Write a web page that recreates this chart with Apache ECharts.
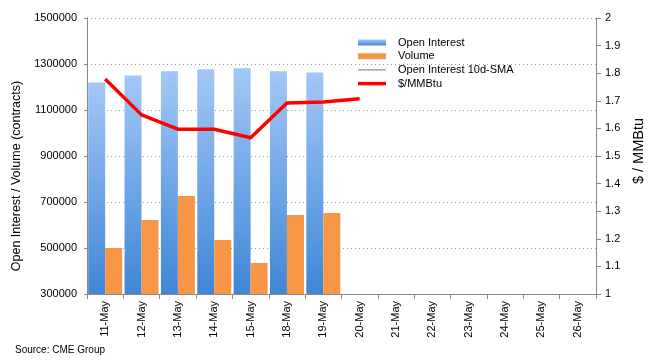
<!DOCTYPE html>
<html><head><meta charset="utf-8">
<script src="https://cdn.jsdelivr.net/npm/echarts@6/dist/echarts.min.js"></script>
<style>html,body{margin:0;padding:0;background:#fff}#c{width:655px;height:363px}</style>
</head><body><div id="c"></div>
<script>
var categories = ['11-May','12-May','13-May','14-May','15-May','18-May','19-May','20-May','21-May','22-May','23-May','24-May','25-May','26-May'];
var openInterest = [1220000,1250000,1268000,1277000,1282000,1268000,1263000,null,null,null,null,null,null,null];
var volume = [500000,622000,726000,535000,435000,643000,652000,null,null,null,null,null,null,null];
var oiSMA = [null,null,null,null,null,null,null,null,null,null,null,null,null,null];
var price = [1.779,1.649,1.597,1.597,1.566,1.692,1.696,1.707,null,null,null,null,null,null];
var leftTicks = {min:300000,max:1500000,interval:200000};
var rightTicks = {min:1,max:2,interval:0.1};

var chart = echarts.init(document.getElementById('c'), null, {renderer:'canvas'});
var font = 'Liberation Sans, Arial, sans-serif';
chart.setOption({
  animation:false,
  grid:{left:87,right:59,top:18,bottom:69,containLabel:false},
  legend:{
    orient:'vertical', left:353, top:32, itemWidth:28, itemHeight:6, itemGap:2.7,
    symbolKeepAspect:true,
    textStyle:{fontFamily:font,fontSize:11,color:'#000',padding:[0,0,0,7]},
    data:[
      {name:'Open Interest',icon:'rect'},
      {name:'Volume',icon:'rect'},
      {name:'Open Interest 10d-SMA',icon:'path://M0,0 H28 V1 H0 Z'},
      {name:'$/MMBtu',icon:'path://M0,0 H28 V3.5 H0 Z'}
    ]
  },
  xAxis:{
    type:'category', data:categories, boundaryGap:true,
    axisLine:{lineStyle:{color:'#888',width:1}},
    axisTick:{show:true,alignWithLabel:false,length:5,lineStyle:{color:'#888'}},
    axisLabel:{rotate:90,fontFamily:font,fontSize:11,color:'#000',margin:7,interval:0},
    splitLine:{show:false}
  },
  yAxis:[
    {type:'value',min:leftTicks.min,max:leftTicks.max,interval:leftTicks.interval,
     name:'Open Interest / Volume (contracts)',nameLocation:'middle',nameGap:60,nameRotate:90,
     nameTextStyle:{fontFamily:font,fontSize:12.5,color:'#000',padding:[0,40,0,0]},
     axisLine:{show:true,lineStyle:{color:'#888'}},
     axisTick:{show:true,length:3,lineStyle:{color:'#888'}},
     axisLabel:{fontFamily:font,fontSize:11,color:'#000',margin:10,formatter:function(v){return String(v);}},
     splitLine:{show:true,lineStyle:{color:'#999',type:[1,3],width:1}}},
    {type:'value',min:rightTicks.min,max:rightTicks.max,interval:rightTicks.interval,position:'right',
     name:'$ / MMBtu',nameLocation:'middle',nameGap:33,nameRotate:90,
     nameTextStyle:{fontFamily:font,fontSize:14.5,color:'#000',padding:[0,0,0,10]},
     axisLine:{show:true,lineStyle:{color:'#888'}},
     axisTick:{show:true,inside:false,length:5,lineStyle:{color:'#888'}},
     axisLabel:{fontFamily:font,fontSize:11,color:'#000',margin:9,formatter:function(v){return String(Math.round(v*10)/10);}},
     splitLine:{show:false}}
  ],
  series:[
    {name:'Open Interest',type:'bar',yAxisIndex:0,data:openInterest,barWidth:17,barGap:'0%',
     itemStyle:{color:new echarts.graphic.LinearGradient(0,0,0,1,[{offset:0,color:'#A3C7F6'},{offset:1,color:'#3F86D6'}])}},
    {name:'Volume',type:'bar',yAxisIndex:0,data:volume,barWidth:17,barGap:'0%',
     itemStyle:{color:'#F79646'}},
    {name:'Open Interest 10d-SMA',type:'line',yAxisIndex:0,data:oiSMA,symbol:'none',
     lineStyle:{color:'#8064A2',width:1},itemStyle:{color:'#8064A2'}},
    {name:'$/MMBtu',type:'line',yAxisIndex:1,data:price,symbol:'none',
     lineStyle:{color:'#FF0000',width:3.5},itemStyle:{color:'#FF0000'}}
  ],
  graphic:[
    {type:'text',left:15,top:345,style:{text:'Source: CME Group',font:'10px '+font,fill:'#000',
      shadowColor:'rgba(0,0,0,0.35)',shadowBlur:2,shadowOffsetX:1,shadowOffsetY:1}}
  ]
});
</script></body></html>
